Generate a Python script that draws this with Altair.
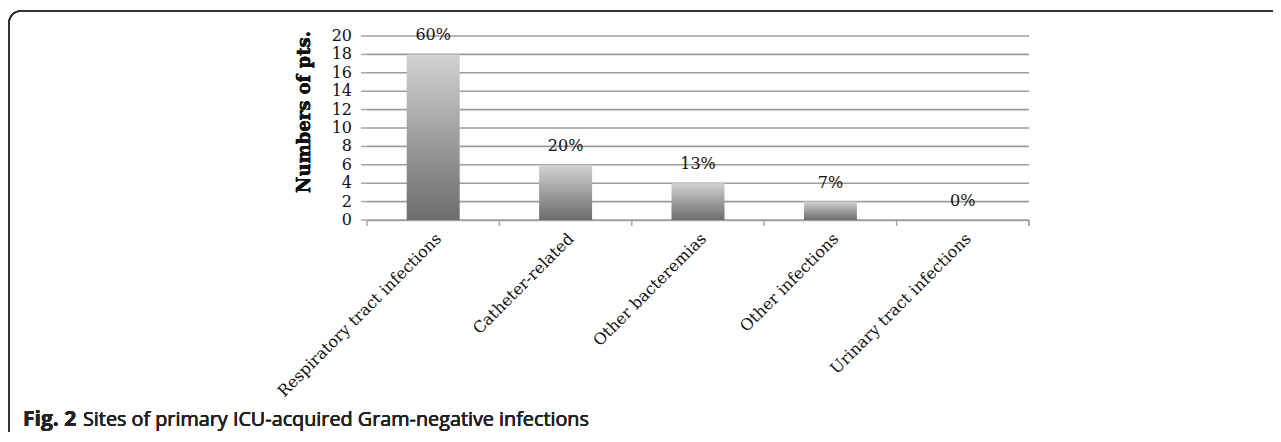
import altair as alt
import pandas as pd

categories = ["Respiratory tract infections", "Catheter-related", "Other bacteremias",
              "Other infections", "Urinary tract infections"]
counts = [18, 6, 4, 2, 0]
percents = ["60%", "20%", "13%", "7%", "0%"]
y_ticks = list(range(0, 21, 2))

df = pd.DataFrame({"cat": categories, "n": counts, "pct": percents})
tdf = pd.DataFrame({"v": y_ticks, "lab": [str(t) for t in y_ticks]})

W, H = 662, 184
SERIF = "DejaVu Serif"

xscale = alt.Scale(domain=categories, paddingInner=0, paddingOuter=0)
yscale = alt.Scale(domain=[0, 20], nice=False)

x_axis = alt.Axis(title=None, labelAngle=-45, labelAlign="right",
                  labelBaseline="top", labelFont=SERIF, labelFontSize=16,
                  labelColor="#111", ticks=False, domain=True,
                  domainColor="#a8a8a8", domainWidth=1.5, labelPadding=10,
                  labelLimit=400, labelOverlap=False)
y_axis = alt.Axis(title=None, grid=False, labels=False, ticks=False,
                  domainColor="#a8a8a8", domainWidth=1.5)

base = alt.Chart(df)
tbase = alt.Chart(tdf)

grid = tbase.mark_rule(color="#9c9c9c", strokeWidth=1.6).encode(
    y=alt.Y("v:Q", scale=yscale, axis=None),
    x=alt.value(0), x2=alt.value(W),
)
yticks = tbase.mark_rule(color="#a8a8a8", strokeWidth=1.5).encode(
    y=alt.Y("v:Q", scale=yscale, axis=None),
    x=alt.value(-6), x2=alt.value(0),
)
ylabels = tbase.mark_text(font=SERIF, fontSize=16, color="#111", align="right",
                          baseline="middle").encode(
    y=alt.Y("v:Q", scale=yscale, axis=None),
    x=alt.value(-15),
    text="lab:N",
)

grad = alt.Gradient(
    gradient="linear",
    stops=[alt.GradientStop(color="#d2d2d2", offset=0),
           alt.GradientStop(color="#6c6c6c", offset=1)],
    x1=0, x2=0, y1=0, y2=1,
)

bars = base.mark_bar(color=grad, size=53).encode(
    x=alt.X("cat:N", scale=xscale, sort=categories, axis=x_axis),
    y=alt.Y("n:Q", scale=yscale, axis=y_axis),
)

xticks = base.mark_rule(color="#a8a8a8", strokeWidth=1.5).encode(
    x=alt.X("cat:N", scale=xscale, sort=categories, bandPosition=0, axis=x_axis),
    y=alt.value(H), y2=alt.value(H + 6),
)
xtick_end = base.mark_rule(color="#a8a8a8", strokeWidth=1.5).encode(
    x=alt.value(W), y=alt.value(H), y2=alt.value(H + 6),
)

labels = base.mark_text(font=SERIF, fontSize=16, color="#111", baseline="middle",
                        dy=-19).encode(
    x=alt.X("cat:N", scale=xscale, sort=categories, axis=x_axis),
    y=alt.Y("n:Q", scale=yscale, axis=None),
    text="pct:N",
)

ytitle = base.mark_text(font=SERIF, fontSize=18, fontWeight="bold", color="#111",
                        angle=270, align="center", baseline="middle",
                        text="Numbers of pts.").encode(
    x=alt.value(-62), y=alt.value(76),
)

frame = base.mark_rect(filled=False, stroke="#333", strokeWidth=1.6, cornerRadius=12).encode(
    x=alt.value(-358), x2=alt.value(W + 400),
    y=alt.value(-25), y2=alt.value(H + 300),
)

cap_bold = base.mark_text(font="Open Sans", fontSize=21, fontWeight="bold", color="#222",
                          align="left", baseline="middle", text="Fig. 2").encode(
    x=alt.value(-344), y=alt.value(384),
)
cap_rest = base.mark_text(font="Open Sans", fontSize=19.8, color="#222",
                          align="left", baseline="middle",
                          text="Sites of primary ICU-acquired Gram-negative infections").encode(
    x=alt.value(-284), y=alt.value(384),
)

chart = alt.layer(frame, grid, yticks, ylabels, bars, xticks, xtick_end, labels,
                  ytitle, cap_bold, cap_rest).properties(
    width=W, height=H,
    autosize=alt.AutoSizeParams(type="none"),
    padding={"left": 359, "top": 28, "right": 244, "bottom": 212},
).configure_view(stroke=None)

chart.save("out.html", embed_options={"renderer": "svg", "actions": False})
